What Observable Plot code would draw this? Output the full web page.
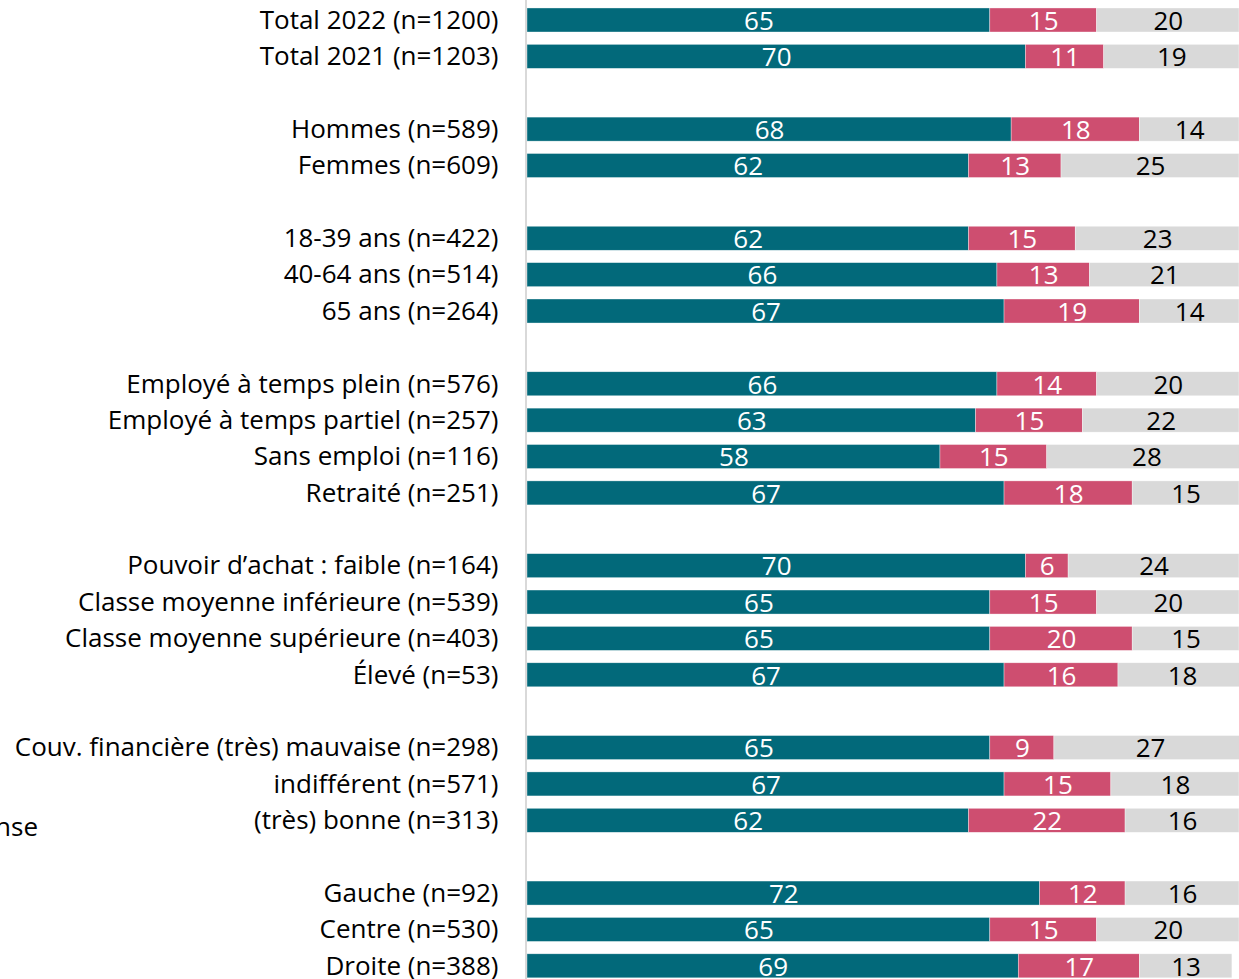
<!DOCTYPE html>
<html><head><meta charset="utf-8">
<script src="https://cdn.jsdelivr.net/npm/d3@7"></script>
<script src="https://cdn.jsdelivr.net/npm/@observablehq/plot@0.6"></script>
<style>
body{margin:0;background:#fff;overflow:hidden;}
#wrap{position:relative;width:1239px;height:979px;}
#note{position:absolute;right:1201px;top:808px;font:26px "Open Sans", sans-serif;white-space:nowrap;color:#000;}
</style></head><body><div id="wrap"><div id="note">Pas de réponse</div></div>
<script>
const categories = [
  "Total 2022 (n=1200)", "Total 2021 (n=1203)",
  "Hommes (n=589)", "Femmes (n=609)",
  "18-39 ans (n=422)", "40-64 ans (n=514)", "65 ans (n=264)",
  "Employé à temps plein (n=576)", "Employé à temps partiel (n=257)", "Sans emploi (n=116)", "Retraité (n=251)",
  "Pouvoir d’achat : faible (n=164)", "Classe moyenne inférieure (n=539)", "Classe moyenne supérieure (n=403)", "Élevé (n=53)",
  "Couv. financière (très) mauvaise (n=298)", "indifférent (n=571)", "(très) bonne (n=313)",
  "Gauche (n=92)", "Centre (n=530)", "Droite (n=388)"
];
const groupSizes = [2, 2, 3, 4, 4, 3, 3];
const seriesNames = ["Oui", "Non", "Pas de réponse"];
const oui = [65, 70, 68, 62, 62, 66, 67, 66, 63, 58, 67, 70, 65, 65, 67, 65, 67, 62, 72, 65, 69];
const non = [15, 11, 18, 13, 15, 13, 19, 14, 15, 15, 18, 6, 15, 20, 16, 9, 15, 22, 12, 15, 17];
const nsp = [20, 19, 14, 25, 23, 21, 14, 20, 22, 28, 15, 24, 20, 15, 18, 27, 18, 16, 16, 20, 13];
const colors = ["#02697A", "#CE4E70", "#D9D9D9"];

const domain = [];
let k = 0;
groupSizes.forEach((n, g) => {
  if (g > 0) domain.push("spacer" + g);
  for (let i = 0; i < n; i++) domain.push(categories[k++]);
});
const data = categories.flatMap((c, i) =>
  [oui[i], non[i], nsp[i]].map((v, j) => ({cat: c, series: seriesNames[j], value: v}))
);
const last = seriesNames[2];

const chart = Plot.plot({
  width: 1239, height: 979,
  marginLeft: 527, marginRight: 0, marginTop: 0, marginBottom: 0,
  style: {fontFamily: "'Open Sans', sans-serif", fontSize: "26px", background: "#fff", color: "#000"},
  x: {domain: [0, 100], axis: null},
  y: {type: "band", domain, range: [1.8, 984], round: false, paddingInner: 0.34, paddingOuter: 0.17, align: 0.5,
      label: null, tickSize: 0, tickPadding: 29,
      tickFormat: d => d.startsWith("spacer") ? "" : d},
  color: {domain: seriesNames, range: colors},
  marks: [
    Plot.barX(data, Plot.stackX({x: "value", y: "cat", fill: "series", stroke: "#fff", strokeWidth: 0.6, strokeOpacity: 0.6})),
    Plot.text(data, Plot.stackX({x: "value", y: "cat", z: "series", dy: 1,
      text: d => d.series !== last ? String(d.value) : "", fill: "#fff", fontSize: 26})),
    Plot.text(data, Plot.stackX({x: "value", y: "cat", z: "series", dy: 1,
      text: d => d.series === last ? String(d.value) : "", fill: "#000", fontSize: 26})),
    Plot.ruleX([0], {stroke: "#d9d9d9", strokeWidth: 2, dx: -1.5})
  ]
});
document.getElementById("wrap").appendChild(chart);
</script>
</body></html>
